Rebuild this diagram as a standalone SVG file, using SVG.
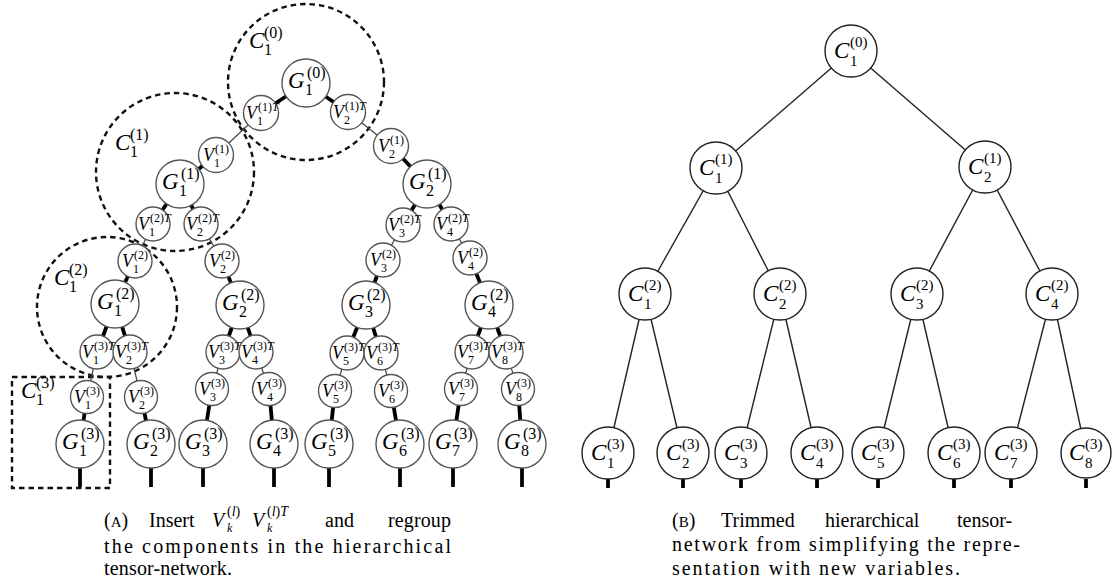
<svg xmlns="http://www.w3.org/2000/svg" width="1112" height="587" viewBox="0 0 1112 587">
<style>
text{font-family:"Liberation Serif","DejaVu Serif",serif;fill:#000}
.n{fill:#fff;stroke:#555;stroke-width:1.4}
.rn{fill:#fff;stroke:#222;stroke-width:1.4}
.dash{fill:none;stroke:#111;stroke-width:2.4;stroke-dasharray:5.5 4}
.thick{stroke:#000;stroke-width:3.8;stroke-linecap:butt}
.thin{stroke:#444;stroke-width:1.2}
.rl{stroke:#222;stroke-width:1.4}
.i{font-style:italic}
.g{font-size:23px}
.v{font-size:18px}
.c{font-size:23px}
.sg{font-size:16px;font-style:normal}
.sv{font-size:12px;font-style:normal}
.sc{font-size:15px;font-style:normal}
.cap{font-size:20px}
.cs{font-size:14px}
.ks{font-size:12px;font-style:italic}
.sm{font-size:15px}
</style>

<g id="groups">
<circle class="dash" cx="306" cy="82" r="78"/>
<circle class="dash" cx="175" cy="172" r="79"/>
<circle class="dash" cx="107" cy="307" r="70"/>
<rect class="dash" x="12" y="377" width="98" height="111"/>
<text class="g"><tspan class="i" x="249" y="48">C</tspan><tspan class="sg" x="264" y="38">(0)</tspan><tspan class="sg" x="264" y="55">1</tspan></text>
<text class="g"><tspan class="i" x="115" y="150">C</tspan><tspan class="sg" x="130" y="140">(1)</tspan><tspan class="sg" x="130" y="157">1</tspan></text>
<text class="g"><tspan class="i" x="54" y="285">C</tspan><tspan class="sg" x="69" y="275">(2)</tspan><tspan class="sg" x="69" y="292">1</tspan></text>
<text class="g"><tspan class="i" x="21" y="398">C</tspan><tspan class="sg" x="36" y="388">(3)</tspan><tspan class="sg" x="36" y="405">1</tspan></text>
</g>

<g id="connectors">
<line class="thick" x1="306" y1="83" x2="261" y2="113"/>
<line class="thick" x1="306" y1="83" x2="348" y2="112"/>
<line class="thick" x1="216" y1="155" x2="180" y2="184"/>
<line class="thick" x1="391" y1="146" x2="427" y2="184"/>
<line class="thick" x1="180" y1="184" x2="153" y2="224"/>
<line class="thick" x1="180" y1="184" x2="201" y2="224"/>
<line class="thick" x1="427" y1="184" x2="403" y2="225"/>
<line class="thick" x1="427" y1="184" x2="451" y2="224"/>
<line class="thick" x1="135" y1="261" x2="115" y2="304"/>
<line class="thick" x1="222" y1="261" x2="240" y2="305"/>
<line class="thick" x1="383" y1="260" x2="366" y2="305"/>
<line class="thick" x1="470" y1="258" x2="489" y2="305"/>
<line class="thick" x1="115" y1="304" x2="97" y2="352"/>
<line class="thick" x1="115" y1="304" x2="130" y2="352"/>
<line class="thick" x1="240" y1="305" x2="223" y2="352"/>
<line class="thick" x1="240" y1="305" x2="256" y2="352"/>
<line class="thick" x1="366" y1="305" x2="347" y2="353"/>
<line class="thick" x1="366" y1="305" x2="381" y2="353"/>
<line class="thick" x1="489" y1="305" x2="472" y2="352"/>
<line class="thick" x1="489" y1="305" x2="506" y2="352"/>
<line class="thick" x1="87" y1="397" x2="80" y2="444"/>
<line class="thick" x1="141" y1="397" x2="151" y2="444"/>
<line class="thick" x1="212" y1="389" x2="203" y2="444"/>
<line class="thick" x1="269" y1="389" x2="274" y2="444"/>
<line class="thick" x1="335" y1="391" x2="329" y2="444"/>
<line class="thick" x1="391" y1="391" x2="400" y2="444"/>
<line class="thick" x1="461" y1="389" x2="453" y2="444"/>
<line class="thick" x1="518" y1="389" x2="522" y2="444"/>
<line class="thick" x1="80" y1="468" x2="80" y2="487"/>
<line class="thick" x1="151" y1="468" x2="151" y2="487"/>
<line class="thick" x1="203" y1="468" x2="203" y2="487"/>
<line class="thick" x1="274" y1="468" x2="274" y2="487"/>
<line class="thick" x1="329" y1="468" x2="329" y2="487"/>
<line class="thick" x1="400" y1="468" x2="400" y2="487"/>
<line class="thick" x1="453" y1="468" x2="453" y2="487"/>
<line class="thick" x1="522" y1="468" x2="522" y2="487"/>
<line class="thin" x1="261" y1="113" x2="216" y2="155"/>
<line class="thin" x1="348" y1="112" x2="391" y2="146"/>
<line class="thin" x1="153" y1="224" x2="135" y2="261"/>
<line class="thin" x1="201" y1="224" x2="222" y2="261"/>
<line class="thin" x1="403" y1="225" x2="383" y2="260"/>
<line class="thin" x1="451" y1="224" x2="470" y2="258"/>
<line class="thin" x1="97" y1="352" x2="87" y2="397"/>
<line class="thin" x1="130" y1="352" x2="141" y2="397"/>
<line class="thin" x1="223" y1="352" x2="212" y2="389"/>
<line class="thin" x1="256" y1="352" x2="269" y2="389"/>
<line class="thin" x1="347" y1="353" x2="335" y2="391"/>
<line class="thin" x1="381" y1="353" x2="391" y2="391"/>
<line class="thin" x1="472" y1="352" x2="461" y2="389"/>
<line class="thin" x1="506" y1="352" x2="518" y2="389"/>
<line class="rl" x1="851" y1="51" x2="716" y2="168"/>
<line class="rl" x1="851" y1="51" x2="985" y2="167"/>
<line class="rl" x1="716" y1="168" x2="645" y2="294"/>
<line class="rl" x1="716" y1="168" x2="780" y2="294"/>
<line class="rl" x1="985" y1="167" x2="917" y2="294"/>
<line class="rl" x1="985" y1="167" x2="1052" y2="294"/>
<line class="rl" x1="645" y1="294" x2="608" y2="453"/>
<line class="rl" x1="645" y1="294" x2="683" y2="453"/>
<line class="rl" x1="780" y1="294" x2="741" y2="453"/>
<line class="rl" x1="780" y1="294" x2="817" y2="453"/>
<line class="rl" x1="917" y1="294" x2="878" y2="453"/>
<line class="rl" x1="917" y1="294" x2="954" y2="453"/>
<line class="rl" x1="1052" y1="294" x2="1011" y2="453"/>
<line class="rl" x1="1052" y1="294" x2="1086" y2="453"/>
<line class="thick" x1="608" y1="479" x2="608" y2="488"/>
<line class="thick" x1="683" y1="479" x2="683" y2="488"/>
<line class="thick" x1="741" y1="479" x2="741" y2="488"/>
<line class="thick" x1="817" y1="479" x2="817" y2="488"/>
<line class="thick" x1="878" y1="479" x2="878" y2="488"/>
<line class="thick" x1="954" y1="479" x2="954" y2="488"/>
<line class="thick" x1="1011" y1="479" x2="1011" y2="488"/>
<line class="thick" x1="1086" y1="479" x2="1086" y2="488"/>
</g>

<g id="G1_0"><circle class="n" cx="306" cy="83" r="24"/><text class="g"><tspan class="i" x="288" y="88">G</tspan><tspan class="sg" x="307" y="78">(0)</tspan><tspan class="sg" x="305" y="95">1</tspan></text></g>
<g id="V1_1T"><circle class="n" cx="261" cy="113" r="17.5"/><text class="v"><tspan class="i" x="246" y="119">V</tspan><tspan class="sv" x="258" y="111">(1)<tspan class="i">T</tspan></tspan><tspan class="sv" x="257" y="125">1</tspan></text></g>
<g id="V2_1T"><circle class="n" cx="348" cy="112" r="17.5"/><text class="v"><tspan class="i" x="333" y="118">V</tspan><tspan class="sv" x="345" y="110">(1)<tspan class="i">T</tspan></tspan><tspan class="sv" x="344" y="124">2</tspan></text></g>
<g id="V1_1"><circle class="n" cx="216" cy="155" r="17.5"/><text class="v"><tspan class="i" x="203" y="161">V</tspan><tspan class="sv" x="215" y="153">(1)</tspan><tspan class="sv" x="214" y="167">1</tspan></text></g>
<g id="V2_1"><circle class="n" cx="391" cy="146" r="17.5"/><text class="v"><tspan class="i" x="378" y="152">V</tspan><tspan class="sv" x="390" y="144">(1)</tspan><tspan class="sv" x="389" y="158">2</tspan></text></g>
<g id="G1_1"><circle class="n" cx="180" cy="184" r="24"/><text class="g"><tspan class="i" x="162" y="189">G</tspan><tspan class="sg" x="181" y="179">(1)</tspan><tspan class="sg" x="179" y="196">1</tspan></text></g>
<g id="G2_1"><circle class="n" cx="427" cy="184" r="24"/><text class="g"><tspan class="i" x="409" y="189">G</tspan><tspan class="sg" x="428" y="179">(1)</tspan><tspan class="sg" x="426" y="196">2</tspan></text></g>
<g id="V1_2T"><circle class="n" cx="153" cy="224" r="17"/><text class="v"><tspan class="i" x="138" y="230">V</tspan><tspan class="sv" x="150" y="222">(2)<tspan class="i">T</tspan></tspan><tspan class="sv" x="149" y="236">1</tspan></text></g>
<g id="V2_2T"><circle class="n" cx="201" cy="224" r="17"/><text class="v"><tspan class="i" x="186" y="230">V</tspan><tspan class="sv" x="198" y="222">(2)<tspan class="i">T</tspan></tspan><tspan class="sv" x="197" y="236">2</tspan></text></g>
<g id="V3_2T"><circle class="n" cx="403" cy="225" r="17"/><text class="v"><tspan class="i" x="388" y="231">V</tspan><tspan class="sv" x="400" y="223">(2)<tspan class="i">T</tspan></tspan><tspan class="sv" x="399" y="237">3</tspan></text></g>
<g id="V4_2T"><circle class="n" cx="451" cy="224" r="17"/><text class="v"><tspan class="i" x="436" y="230">V</tspan><tspan class="sv" x="448" y="222">(2)<tspan class="i">T</tspan></tspan><tspan class="sv" x="447" y="236">4</tspan></text></g>
<g id="V1_2"><circle class="n" cx="135" cy="261" r="17"/><text class="v"><tspan class="i" x="122" y="267">V</tspan><tspan class="sv" x="134" y="259">(2)</tspan><tspan class="sv" x="133" y="273">1</tspan></text></g>
<g id="V2_2"><circle class="n" cx="222" cy="261" r="17"/><text class="v"><tspan class="i" x="209" y="267">V</tspan><tspan class="sv" x="221" y="259">(2)</tspan><tspan class="sv" x="220" y="273">2</tspan></text></g>
<g id="V3_2"><circle class="n" cx="383" cy="260" r="17"/><text class="v"><tspan class="i" x="370" y="266">V</tspan><tspan class="sv" x="382" y="258">(2)</tspan><tspan class="sv" x="381" y="272">3</tspan></text></g>
<g id="V4_2"><circle class="n" cx="470" cy="258" r="17"/><text class="v"><tspan class="i" x="457" y="264">V</tspan><tspan class="sv" x="469" y="256">(2)</tspan><tspan class="sv" x="468" y="270">4</tspan></text></g>
<g id="G1_2"><circle class="n" cx="115" cy="304" r="24"/><text class="g"><tspan class="i" x="97" y="309">G</tspan><tspan class="sg" x="116" y="299">(2)</tspan><tspan class="sg" x="114" y="316">1</tspan></text></g>
<g id="G2_2"><circle class="n" cx="240" cy="305" r="24"/><text class="g"><tspan class="i" x="222" y="310">G</tspan><tspan class="sg" x="241" y="300">(2)</tspan><tspan class="sg" x="239" y="317">2</tspan></text></g>
<g id="G3_2"><circle class="n" cx="366" cy="305" r="24"/><text class="g"><tspan class="i" x="348" y="310">G</tspan><tspan class="sg" x="367" y="300">(2)</tspan><tspan class="sg" x="365" y="317">3</tspan></text></g>
<g id="G4_2"><circle class="n" cx="489" cy="305" r="24"/><text class="g"><tspan class="i" x="471" y="310">G</tspan><tspan class="sg" x="490" y="300">(2)</tspan><tspan class="sg" x="488" y="317">4</tspan></text></g>
<g id="V1_3T"><circle class="n" cx="97" cy="352" r="17"/><text class="v"><tspan class="i" x="82" y="358">V</tspan><tspan class="sv" x="94" y="350">(3)<tspan class="i">T</tspan></tspan><tspan class="sv" x="93" y="364">1</tspan></text></g>
<g id="V2_3T"><circle class="n" cx="130" cy="352" r="17"/><text class="v"><tspan class="i" x="115" y="358">V</tspan><tspan class="sv" x="127" y="350">(3)<tspan class="i">T</tspan></tspan><tspan class="sv" x="126" y="364">2</tspan></text></g>
<g id="V3_3T"><circle class="n" cx="223" cy="352" r="17"/><text class="v"><tspan class="i" x="208" y="358">V</tspan><tspan class="sv" x="220" y="350">(3)<tspan class="i">T</tspan></tspan><tspan class="sv" x="219" y="364">3</tspan></text></g>
<g id="V4_3T"><circle class="n" cx="256" cy="352" r="17"/><text class="v"><tspan class="i" x="241" y="358">V</tspan><tspan class="sv" x="253" y="350">(3)<tspan class="i">T</tspan></tspan><tspan class="sv" x="252" y="364">4</tspan></text></g>
<g id="V5_3T"><circle class="n" cx="347" cy="353" r="17"/><text class="v"><tspan class="i" x="332" y="359">V</tspan><tspan class="sv" x="344" y="351">(3)<tspan class="i">T</tspan></tspan><tspan class="sv" x="343" y="365">5</tspan></text></g>
<g id="V6_3T"><circle class="n" cx="381" cy="353" r="17"/><text class="v"><tspan class="i" x="366" y="359">V</tspan><tspan class="sv" x="378" y="351">(3)<tspan class="i">T</tspan></tspan><tspan class="sv" x="377" y="365">6</tspan></text></g>
<g id="V7_3T"><circle class="n" cx="472" cy="352" r="17"/><text class="v"><tspan class="i" x="457" y="358">V</tspan><tspan class="sv" x="469" y="350">(3)<tspan class="i">T</tspan></tspan><tspan class="sv" x="468" y="364">7</tspan></text></g>
<g id="V8_3T"><circle class="n" cx="506" cy="352" r="17"/><text class="v"><tspan class="i" x="491" y="358">V</tspan><tspan class="sv" x="503" y="350">(3)<tspan class="i">T</tspan></tspan><tspan class="sv" x="502" y="364">8</tspan></text></g>
<g id="V1_3"><circle class="n" cx="87" cy="397" r="16.5"/><text class="v"><tspan class="i" x="74" y="403">V</tspan><tspan class="sv" x="86" y="395">(3)</tspan><tspan class="sv" x="85" y="409">1</tspan></text></g>
<g id="V2_3"><circle class="n" cx="141" cy="397" r="16.5"/><text class="v"><tspan class="i" x="128" y="403">V</tspan><tspan class="sv" x="140" y="395">(3)</tspan><tspan class="sv" x="139" y="409">2</tspan></text></g>
<g id="V3_3"><circle class="n" cx="212" cy="389" r="16.5"/><text class="v"><tspan class="i" x="199" y="395">V</tspan><tspan class="sv" x="211" y="387">(3)</tspan><tspan class="sv" x="210" y="401">3</tspan></text></g>
<g id="V4_3"><circle class="n" cx="269" cy="389" r="16.5"/><text class="v"><tspan class="i" x="256" y="395">V</tspan><tspan class="sv" x="268" y="387">(3)</tspan><tspan class="sv" x="267" y="401">4</tspan></text></g>
<g id="V5_3"><circle class="n" cx="335" cy="391" r="16.5"/><text class="v"><tspan class="i" x="322" y="397">V</tspan><tspan class="sv" x="334" y="389">(3)</tspan><tspan class="sv" x="333" y="403">5</tspan></text></g>
<g id="V6_3"><circle class="n" cx="391" cy="391" r="16.5"/><text class="v"><tspan class="i" x="378" y="397">V</tspan><tspan class="sv" x="390" y="389">(3)</tspan><tspan class="sv" x="389" y="403">6</tspan></text></g>
<g id="V7_3"><circle class="n" cx="461" cy="389" r="16.5"/><text class="v"><tspan class="i" x="448" y="395">V</tspan><tspan class="sv" x="460" y="387">(3)</tspan><tspan class="sv" x="459" y="401">7</tspan></text></g>
<g id="V8_3"><circle class="n" cx="518" cy="389" r="16.5"/><text class="v"><tspan class="i" x="505" y="395">V</tspan><tspan class="sv" x="517" y="387">(3)</tspan><tspan class="sv" x="516" y="401">8</tspan></text></g>
<g id="G1_3"><circle class="n" cx="80" cy="444" r="24"/><text class="g"><tspan class="i" x="62" y="449">G</tspan><tspan class="sg" x="81" y="439">(3)</tspan><tspan class="sg" x="79" y="456">1</tspan></text></g>
<g id="G2_3"><circle class="n" cx="151" cy="444" r="24"/><text class="g"><tspan class="i" x="133" y="449">G</tspan><tspan class="sg" x="152" y="439">(3)</tspan><tspan class="sg" x="150" y="456">2</tspan></text></g>
<g id="G3_3"><circle class="n" cx="203" cy="444" r="24"/><text class="g"><tspan class="i" x="185" y="449">G</tspan><tspan class="sg" x="204" y="439">(3)</tspan><tspan class="sg" x="202" y="456">3</tspan></text></g>
<g id="G4_3"><circle class="n" cx="274" cy="444" r="24"/><text class="g"><tspan class="i" x="256" y="449">G</tspan><tspan class="sg" x="275" y="439">(3)</tspan><tspan class="sg" x="273" y="456">4</tspan></text></g>
<g id="G5_3"><circle class="n" cx="329" cy="444" r="24"/><text class="g"><tspan class="i" x="311" y="449">G</tspan><tspan class="sg" x="330" y="439">(3)</tspan><tspan class="sg" x="328" y="456">5</tspan></text></g>
<g id="G6_3"><circle class="n" cx="400" cy="444" r="24"/><text class="g"><tspan class="i" x="382" y="449">G</tspan><tspan class="sg" x="401" y="439">(3)</tspan><tspan class="sg" x="399" y="456">6</tspan></text></g>
<g id="G7_3"><circle class="n" cx="453" cy="444" r="24"/><text class="g"><tspan class="i" x="435" y="449">G</tspan><tspan class="sg" x="454" y="439">(3)</tspan><tspan class="sg" x="452" y="456">7</tspan></text></g>
<g id="G8_3"><circle class="n" cx="522" cy="444" r="24"/><text class="g"><tspan class="i" x="504" y="449">G</tspan><tspan class="sg" x="523" y="439">(3)</tspan><tspan class="sg" x="521" y="456">8</tspan></text></g>

<g id="C1_0"><circle class="rn" cx="851" cy="51" r="26"/><text class="c"><tspan class="i" x="834" y="58">C</tspan><tspan class="sc" x="850" y="47">(0)</tspan><tspan class="sc" x="850" y="66">1</tspan></text></g>
<g id="C1_1"><circle class="rn" cx="716" cy="168" r="26"/><text class="c"><tspan class="i" x="699" y="175">C</tspan><tspan class="sc" x="715" y="164">(1)</tspan><tspan class="sc" x="715" y="183">1</tspan></text></g>
<g id="C2_1"><circle class="rn" cx="985" cy="167" r="26"/><text class="c"><tspan class="i" x="968" y="174">C</tspan><tspan class="sc" x="984" y="163">(1)</tspan><tspan class="sc" x="984" y="182">2</tspan></text></g>
<g id="C1_2"><circle class="rn" cx="645" cy="294" r="26"/><text class="c"><tspan class="i" x="628" y="301">C</tspan><tspan class="sc" x="644" y="290">(2)</tspan><tspan class="sc" x="644" y="309">1</tspan></text></g>
<g id="C2_2"><circle class="rn" cx="780" cy="294" r="26"/><text class="c"><tspan class="i" x="763" y="301">C</tspan><tspan class="sc" x="779" y="290">(2)</tspan><tspan class="sc" x="779" y="309">2</tspan></text></g>
<g id="C3_2"><circle class="rn" cx="917" cy="294" r="26"/><text class="c"><tspan class="i" x="900" y="301">C</tspan><tspan class="sc" x="916" y="290">(2)</tspan><tspan class="sc" x="916" y="309">3</tspan></text></g>
<g id="C4_2"><circle class="rn" cx="1052" cy="294" r="26"/><text class="c"><tspan class="i" x="1035" y="301">C</tspan><tspan class="sc" x="1051" y="290">(2)</tspan><tspan class="sc" x="1051" y="309">4</tspan></text></g>
<g id="C1_3"><circle class="rn" cx="608" cy="453" r="26"/><text class="c"><tspan class="i" x="591" y="460">C</tspan><tspan class="sc" x="607" y="449">(3)</tspan><tspan class="sc" x="607" y="468">1</tspan></text></g>
<g id="C2_3"><circle class="rn" cx="683" cy="453" r="26"/><text class="c"><tspan class="i" x="666" y="460">C</tspan><tspan class="sc" x="682" y="449">(3)</tspan><tspan class="sc" x="682" y="468">2</tspan></text></g>
<g id="C3_3"><circle class="rn" cx="741" cy="453" r="26"/><text class="c"><tspan class="i" x="724" y="460">C</tspan><tspan class="sc" x="740" y="449">(3)</tspan><tspan class="sc" x="740" y="468">3</tspan></text></g>
<g id="C4_3"><circle class="rn" cx="817" cy="453" r="26"/><text class="c"><tspan class="i" x="800" y="460">C</tspan><tspan class="sc" x="816" y="449">(3)</tspan><tspan class="sc" x="816" y="468">4</tspan></text></g>
<g id="C5_3"><circle class="rn" cx="878" cy="453" r="26"/><text class="c"><tspan class="i" x="861" y="460">C</tspan><tspan class="sc" x="877" y="449">(3)</tspan><tspan class="sc" x="877" y="468">5</tspan></text></g>
<g id="C6_3"><circle class="rn" cx="954" cy="453" r="26"/><text class="c"><tspan class="i" x="937" y="460">C</tspan><tspan class="sc" x="953" y="449">(3)</tspan><tspan class="sc" x="953" y="468">6</tspan></text></g>
<g id="C7_3"><circle class="rn" cx="1011" cy="453" r="26"/><text class="c"><tspan class="i" x="994" y="460">C</tspan><tspan class="sc" x="1010" y="449">(3)</tspan><tspan class="sc" x="1010" y="468">7</tspan></text></g>
<g id="C8_3"><circle class="rn" cx="1086" cy="453" r="25"/><text class="c"><tspan class="i" x="1069" y="460">C</tspan><tspan class="sc" x="1085" y="449">(3)</tspan><tspan class="sc" x="1085" y="468">8</tspan></text></g>

<g id="captionA">
<text class="cap" y="527"><tspan x="104">(</tspan><tspan class="sm">A</tspan><tspan>)</tspan><tspan x="149">Insert</tspan><tspan x="212" class="i">V</tspan><tspan x="227" y="516" class="cs">(<tspan class="i">l</tspan>)</tspan><tspan x="252" y="527" class="i">V</tspan><tspan x="267" y="516" class="cs">(<tspan class="i">l</tspan>)<tspan class="i">T</tspan></tspan><tspan x="325" y="527">and</tspan><tspan x="388" y="527" textLength="63" lengthAdjust="spacing">regroup</tspan></text>
<text class="ks"><tspan x="227" y="532">k</tspan><tspan x="267" y="532">k</tspan></text>
<text class="cap" x="104" y="553" textLength="347" lengthAdjust="spacing">the components in the hierarchical</text>
<text class="cap" x="104" y="575" textLength="128" lengthAdjust="spacing">tensor-network.</text>
</g>
<g id="captionB">
<text class="cap" y="527"><tspan x="672">(</tspan><tspan class="sm">B</tspan><tspan>)</tspan><tspan x="721">Trimmed</tspan><tspan x="825">hierarchical</tspan><tspan x="957">tensor-</tspan></text>
<text class="cap" x="672" y="551" textLength="348" lengthAdjust="spacing">network from simplifying the repre-</text>
<text class="cap" x="672" y="575" textLength="288" lengthAdjust="spacing">sentation with new variables.</text>
</g>
</svg>
